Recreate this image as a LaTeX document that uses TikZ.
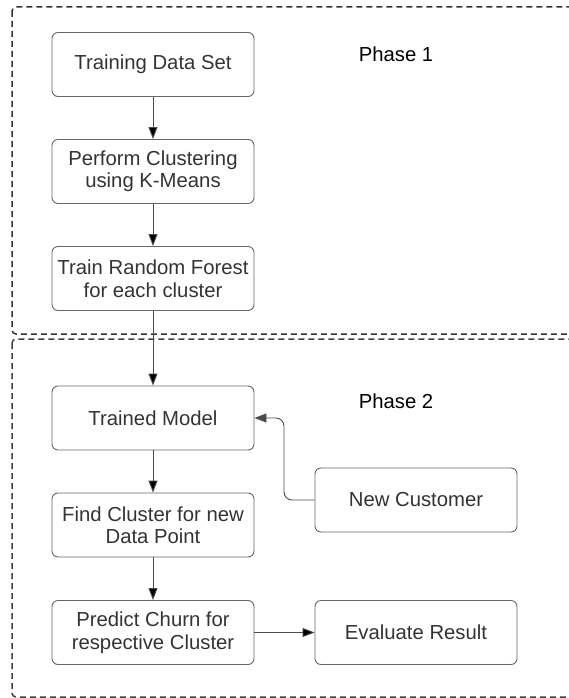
\documentclass[tikz,border=0pt]{standalone}
\usepackage{fontspec}
\setmainfont{Liberation Sans}
\usetikzlibrary{arrows.meta,positioning}

\begin{document}
\begin{tikzpicture}[x=1pt,y=-1pt,->,>={Triangle[length=12pt,width=9pt]},
                    node distance=107pt,
                    box/.style={draw=black!60,rounded corners=6pt,line width=0.9pt,
                        minimum width=202pt,minimum height=64pt,align=center,
                        text=black!80,font=\fontsize{20.3}{22.5}\selectfont},
                    phase/.style={draw=black!80,line width=1.5pt,
                        dash pattern=on 6pt off 4pt,rounded corners=4pt},
                    link/.style={draw=black!70,line width=0.9pt}]
    \useasboundingbox (0,0) rectangle (569,698);
    \draw[phase,-] (12,7) rectangle (590,334);
    \draw[phase,-,draw=black!75] (12,339) rectangle (590,697);
    \node[text=black,font=\fontsize{20.3}{22.5}\selectfont] (p1) at (396,54) {Phase 1};
    \node[text=black,font=\fontsize{20.3}{22.5}\selectfont] (p2) at (396,401) {Phase 2};
    \node [box] (0) at (153,64.5) {Training Data Set};
    \node [box] (1) [below of=0] {Perform Clustering\\using K-Means};
    \node [box] (2) [below of=1] {Train Random Forest\\for each cluster};
    \node [box] (3) at (153,418) {Trained Model};
    \node [box] (4) [below of=3] {Find Cluster for new\\Data Point};
    \node [box] (5) at (153,632.5) {Predict Churn for\\respective Cluster};
    \node [box] (6) at (416,632.5) {Evaluate Result};
    \node [box] (7) at (416,500) {New Customer};
    \coordinate (c) at (284,418);
    \path[link] (0) edge (1)
                (1) edge (2)
                (2) edge (3)
                (3) edge (4)
                (4) edge (5)
                (5) edge (6);
    \draw[link,rounded corners=8pt] (7.west) -| (c) -- (3.east);
\end{tikzpicture}
\end{document}
